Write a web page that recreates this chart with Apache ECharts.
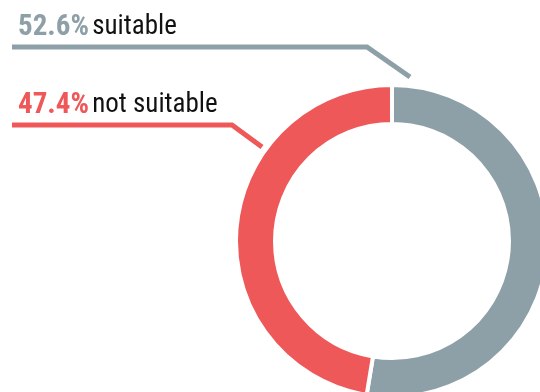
<!DOCTYPE html>
<html><head><meta charset="utf-8">
<script src="https://cdn.jsdelivr.net/npm/echarts@6/dist/echarts.min.js"></script>
<style>html,body{margin:0;padding:0;background:#fff}#c{width:540px;height:392px}</style>
</head><body><div id="c"></div>
<script>
const categories = ['suitable', 'not suitable'];
const values = [52.6, 47.4];
const colors = ['#8da0a8', '#ef5859'];

const CX = 392, CY = 241, R_IN = 119, R_OUT = 154, GAP = 4;
// leader lines: [end on ring, bend, left end]
const leaders = [
  [[410, 77], [367, 47], [12, 47]],
  [[262, 147], [232, 125], [12, 125]]
];
const FONT = '"Roboto Condensed", "Liberation Sans", Arial, sans-serif';

const chart = echarts.init(document.getElementById('c'), null, {renderer: 'canvas'});
chart.setOption({
  animation: false,
  backgroundColor: '#ffffff',
  series: [{
    type: 'pie',
    center: [CX, CY],
    radius: [R_IN - GAP / 2, R_OUT + GAP / 2],
    startAngle: 90,
    clockwise: true,
    silent: true,
    avoidLabelOverlap: false,
    itemStyle: {borderColor: '#ffffff', borderWidth: GAP},
    data: categories.map((c, i) => ({
      name: c, value: values[i],
      itemStyle: {color: colors[i]},
      label: {
        rich: {
          v: {color: colors[i], fontWeight: 'bold', fontSize: 29, fontFamily: FONT},
          n: {color: '#111111', fontSize: 27, fontFamily: FONT}
        }
      }
    })),
    label: {
      show: true,
      overflow: 'none',
      width: 400,
      formatter: p => '{v|' + p.value.toFixed(1) + '%} {n|' + p.name + '}'
    },
    labelLine: {show: true, length: 20, length2: 20, lineStyle: {width: 5}},
    labelLayout: function (params) {
      const pts = leaders[params.dataIndex];
      return {
        x: 18,
        y: pts[2][1] - 5,
        align: 'left',
        verticalAlign: 'bottom',
        hideOverlap: false,
        labelLinePoints: pts
      };
    }
  }]
});
</script>
</body></html>
